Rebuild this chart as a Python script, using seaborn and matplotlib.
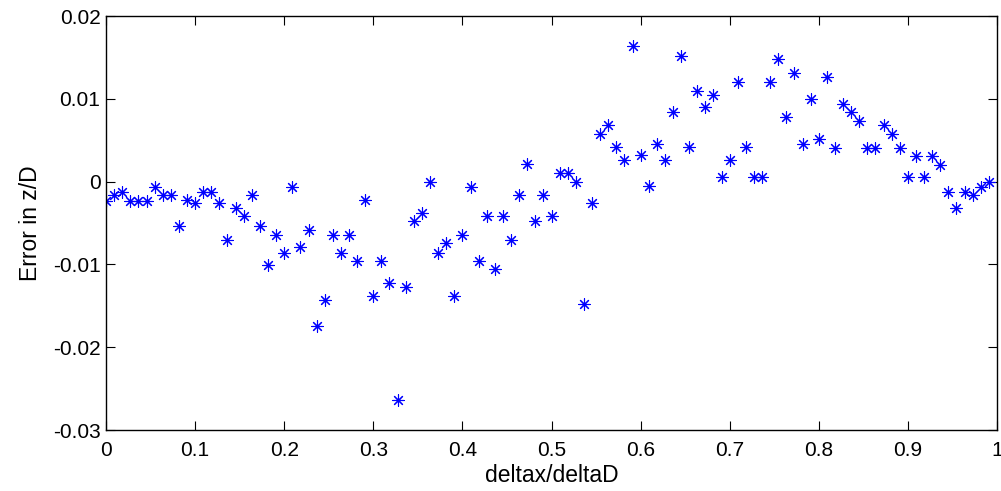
import numpy as np
import pandas as pd
import matplotlib
matplotlib.use("Agg")
import matplotlib.pyplot as plt
import seaborn as sns

# ---- data ----
n_points = 110
ratio = [k / n_points for k in range(n_points)]
error_zD = [
    -0.0023, -0.0016, -0.0012, -0.0023, -0.0023, -0.0023, -0.0006, -0.0016, -0.0016, -0.0054,
    -0.0022, -0.0026, -0.0012, -0.0012, -0.0026, -0.0070, -0.0032, -0.0042, -0.0016, -0.0054,
    -0.0101, -0.0064, -0.0086, -0.0006, -0.0079, -0.0058, -0.0174, -0.0143, -0.0064, -0.0086,
    -0.0064, -0.0096, -0.0022, -0.0138, -0.0096, -0.0122, -0.0264, -0.0127, -0.0048, -0.0038,
    0.0000, -0.0086, -0.0074, -0.0138, -0.0064, -0.0006, -0.0096, -0.0042, -0.0106, -0.0042,
    -0.0070, -0.0016, 0.0021, -0.0048, -0.0016, -0.0042, 0.0010, 0.0010, 0.0000, -0.0148,
    -0.0026, 0.0057, 0.0068, 0.0042, 0.0026, 0.0164, 0.0032, -0.0005, 0.0046, 0.0026,
    0.0084, 0.0152, 0.0042, 0.0110, 0.0090, 0.0104, 0.0005, 0.0026, 0.0120, 0.0042,
    0.0005, 0.0005, 0.0120, 0.0148, 0.0078, 0.0131, 0.0046, 0.0100, 0.0052, 0.0126,
    0.0041, 0.0094, 0.0084, 0.0073, 0.0041, 0.0041, 0.0068, 0.0058, 0.0041, 0.0005,
    0.0031, 0.0005, 0.0031, 0.0020, -0.0012, -0.0032, -0.0012, -0.0016, -0.0006, 0.0000,
]
x_ticks = [0, 0.1, 0.2, 0.3, 0.4, 0.5, 0.6, 0.7, 0.8, 0.9, 1]
x_tick_labels = ["0", "0.1", "0.2", "0.3", "0.4", "0.5", "0.6", "0.7", "0.8", "0.9", "1"]
y_ticks = [-0.03, -0.02, -0.01, 0, 0.01, 0.02]
y_tick_labels = ["-0.03", "-0.02", "-0.01", "0", "0.01", "0.02"]

df = pd.DataFrame({"deltax/deltaD": ratio, "Error in z/D": error_zD})

sns.set_theme(style="white")
plt.rcParams["font.family"] = ["Liberation Sans", "DejaVu Sans"]

fig = plt.figure(figsize=(10.01, 4.91), dpi=100)
ax = fig.add_axes([106 / 1001, 61 / 491, 891 / 1001, 414 / 491])

sns.scatterplot(data=df, x="deltax/deltaD", y="Error in z/D", ax=ax,
                marker=(8, 2, 0), s=70, color="#0000ff", linewidth=0.8,
                legend=False)

ax.set_xlim(0, 1)
ax.set_ylim(-0.03, 0.02)
ax.set_xticks(x_ticks)
ax.set_xticklabels(x_tick_labels)
ax.set_yticks(y_ticks)
ax.set_yticklabels(y_tick_labels)

for side in ["left", "right", "top", "bottom"]:
    ax.spines[side].set_visible(True)
    ax.spines[side].set_color("black")
    ax.spines[side].set_linewidth(1.0)

ax.tick_params(axis="both", which="both", direction="in", length=6.4, width=0.8,
               colors="black", labelsize=15, top=True, right=True,
               bottom=True, left=True)
ax.tick_params(axis="x", pad=8)
ax.tick_params(axis="y", pad=4)
ax.set_xlabel("deltax/deltaD", fontsize=16.5, color="black", labelpad=3)
ax.set_ylabel("Error in z/D", fontsize=16.5, color="black", labelpad=8)
ax.grid(False)

fig.savefig("out.png", dpi=100, facecolor="white")
